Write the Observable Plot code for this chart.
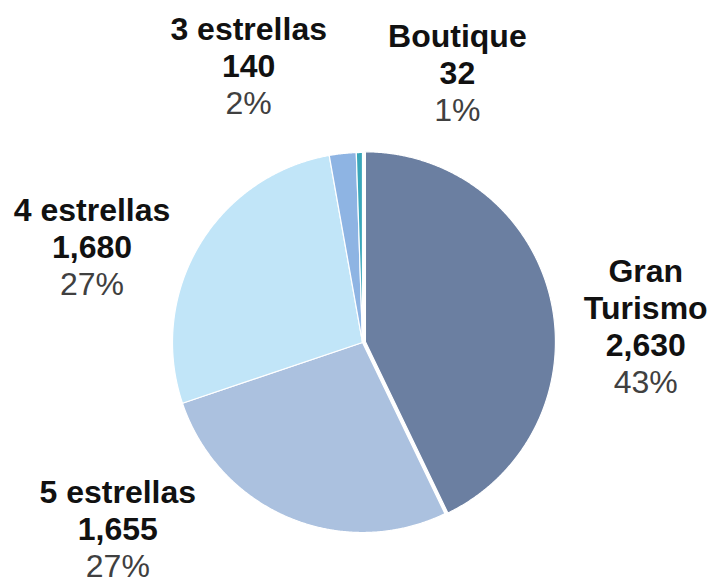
<!DOCTYPE html>
<html>
<head>
<meta charset="utf-8">
<script src="https://cdn.jsdelivr.net/npm/d3@7"></script>
<script src="https://cdn.jsdelivr.net/npm/@observablehq/plot@0.6"></script>
<style>
  html, body { margin: 0; padding: 0; background: #fff; }
  #chart svg { display: block; }
</style>
</head>
<body>
<div id="chart"></div>
<script>
// ---- Data ----
const categories = ["Gran Turismo", "5 estrellas", "4 estrellas", "3 estrellas", "Boutique"];
const values = [2630, 1655, 1680, 140, 32];

// ---- Styles / layout ----
const colors = ["#6b7fa1", "#abc1df", "#c1e5f8", "#8eb4e3", "#3ba7ba"];
const explodePx = {"Gran Turismo": 3};
const wrapNames = {"Gran Turismo": ["Gran", "Turismo"]};
// label nudges in pixels from the slice's outer edge at mid-angle [dx, dy(down)]
const labelNudge = {
  "Gran Turismo": [98, 27],
  "5 estrellas": [-171, 12],
  "4 estrellas": [-107, 2],
  "3 estrellas": [-94, -87],
  "Boutique": [98, -79]
};
const W = 708, H = 585;
const mL = 172, mR = 156, mT = 152, mB = 53;
const R = (W - mL - mR) / 2; // px per data unit
const LH = 37; // line height px
const FONT = "Arial, 'Liberation Sans', sans-serif";

// ---- Geometry from values ----
const total = d3.sum(values);
let acc = 0;
const slices = categories.map((c, i) => {
  const a0 = acc / total * 2 * Math.PI;
  acc += values[i];
  const a1 = acc / total * 2 * Math.PI;
  return {c, v: values[i], a0, a1, mid: (a0 + a1) / 2};
});

const pts = [];
for (const s of slices) {
  const off = (explodePx[s.c] || 0) / R;
  const ox = off * Math.sin(s.mid), oy = off * Math.cos(s.mid);
  pts.push({c: s.c, x: ox, y: oy});
  const n = Math.max(4, Math.ceil((s.a1 - s.a0) / 0.005));
  for (let k = 0; k <= n; k++) {
    const a = s.a0 + (s.a1 - s.a0) * k / n;
    pts.push({c: s.c, x: ox + Math.sin(a), y: oy + Math.cos(a)});
  }
}

const fmt = d3.format(",");
const boldRows = [], pctRows = [];
for (const s of slices) {
  const [dx, dy] = labelNudge[s.c];
  const cx = Math.sin(s.mid) + dx / R;
  const cy = Math.cos(s.mid) - dy / R;
  const names = wrapNames[s.c] || [s.c];
  const lines = [...names.map(t => ({t, bold: true})), {t: fmt(s.v), bold: true},
                 {t: Math.round(s.v / total * 100) + "%", bold: false}];
  const n = lines.length;
  lines.forEach((l, k) => {
    const row = {x: cx, y: cy - (k - (n - 1) / 2) * LH / R, text: l.t};
    (l.bold ? boldRows : pctRows).push(row);
  });
}

const chart = Plot.plot({
  width: W, height: H,
  marginLeft: mL, marginRight: mR, marginTop: mT, marginBottom: mB,
  x: {domain: [-1, 1], axis: null},
  y: {domain: [-1, 1], axis: null},
  color: {domain: categories, range: colors},
  style: {background: "#fff", fontFamily: FONT, overflow: "visible"},
  marks: [
    Plot.line(pts, {x: "x", y: "y", z: "c", fill: "c", stroke: "white", strokeWidth: 1.2, curve: "linear-closed"}),
    Plot.text(boldRows, {x: "x", y: "y", text: "text", fontSize: 32, fontWeight: "bold", fill: "#111", fontFamily: FONT}),
    Plot.text(pctRows, {x: "x", y: "y", text: "text", fontSize: 32, fill: "#404040", fontFamily: FONT})
  ]
});
document.getElementById("chart").appendChild(chart);
</script>
</body>
</html>
